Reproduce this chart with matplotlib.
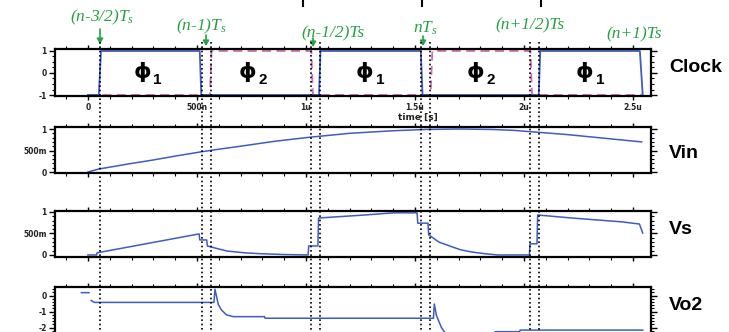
import numpy as np
import matplotlib
matplotlib.use("Agg")
import matplotlib.pyplot as plt
from matplotlib.lines import Line2D
from matplotlib.ticker import MultipleLocator, FuncFormatter
from matplotlib.transforms import blended_transform_factory

# ---- data (time in microseconds) ----
clk1_t = [0, 0.05, 0.06, 0.513, 0.52, 1.06, 1.067, 1.527, 1.535, 2.068, 2.075, 2.532, 2.545]
clk1_v = [-1, -1, 1, 1, -1, -1, 1, 1, -1, -1, 1, 1, -1]
clk2_t = [0, 0.56, 0.567, 1.025, 1.032, 1.572, 1.58, 2.03, 2.037, 2.545]
clk2_v = [-1, -1, 1, 1, -1, -1, 1, 1, -1, -1]

vin_t = [0, 0.05, 0.12, 0.2, 0.3, 0.4, 0.52, 0.6, 0.7, 0.85, 0.95, 1.02, 1.1, 1.2, 1.3,
         1.4, 1.55, 1.7, 1.85, 1.95, 2.05, 2.2, 2.3, 2.4, 2.54]
vin_v = [0, 0.07, 0.13, 0.2, 0.28, 0.37, 0.47, 0.53, 0.6, 0.71, 0.77, 0.81, 0.85, 0.9, 0.93,
         0.96, 0.99, 1.0, 0.99, 0.97, 0.93, 0.87, 0.82, 0.77, 0.7]

vs_t = [0, 0.04, 0.042, 0.51, 0.513, 0.545, 0.548, 0.6, 0.64, 0.72, 0.79, 0.9, 1.01, 1.013,
        1.055, 1.058, 1.27, 1.40, 1.51, 1.513, 1.56, 1.563, 1.61, 1.67, 1.71, 1.76, 1.82,
        1.88, 2.025, 2.028, 2.06, 2.063, 2.22, 2.45, 2.53, 2.545]
vs_v = [0, 0, 0.05, 0.49, 0.35, 0.35, 0.21, 0.14, 0.09, 0.05, 0.03, 0.01, 0.0, 0.21,
        0.21, 0.86, 0.93, 0.98, 0.98, 0.74, 0.74, 0.47, 0.3, 0.19, 0.12, 0.07, 0.03,
        0.0, 0.0, 0.26, 0.26, 0.93, 0.86, 0.77, 0.72, 0.51]

vo2_t = [-0.03, 0.005, 0.006, 0.015, 0.03, 0.578, 0.583, 0.598, 0.613, 0.636, 0.667, 0.81,
         0.813, 1.585, 1.589, 1.599, 1.622, 1.645, 1.865, 1.868, 1.98, 1.983, 2.545]
vo2_v = [0.19, 0.19, np.nan, -0.3, -0.42, -0.42, 0.4, -0.55, -0.9, -1.2, -1.31, -1.31,
         -1.41, -1.41, -0.52, -1.25, -2.0, -2.45, -2.45, -2.25, -2.25, -2.15, -2.15]

edges_t = [0.055, 0.522, 0.565, 1.023, 1.064, 1.528, 1.569, 2.028, 2.069]
phase_t = [0.25, 0.73, 1.27, 1.78, 2.28]
phase_n = ["1", "2", "1", "2", "1"]

xtick_labels = {0: "0", 0.5: "500n", 1.0: "1u", 1.5: "1.5u", 2.0: "2u", 2.5: "2.5u"}

BLUE = "#3d5cc4"
PINK = "#d06cb4"
GREEN = "#27a243"

W, H = 729, 332
plt.rcParams["mathtext.fontset"] = "custom"
plt.rcParams["mathtext.it"] = "Liberation Serif:italic"
plt.rcParams["mathtext.rm"] = "Liberation Serif"
fig = plt.figure(figsize=(W / 100, H / 100), dpi=100)


def box(top, bot):
    return [55 / W, 1 - bot / H, 596 / W, (bot - top) / H]


def style(ax, ylim, major, minor, ylabels=None, xlabels=False):
    ax.set_xlim(-0.151, 2.583)
    ax.set_ylim(*ylim)
    for s in ax.spines.values():
        s.set_linewidth(1.6)
    ax.xaxis.set_major_locator(MultipleLocator(0.5))
    ax.xaxis.set_minor_locator(MultipleLocator(0.1))
    ax.yaxis.set_major_locator(MultipleLocator(major))
    ax.yaxis.set_minor_locator(MultipleLocator(minor))
    ax.tick_params(which="both", direction="out", top=True, right=True,
                   labelsize=5.5, labelcolor="#222222", pad=2)
    ax.tick_params(which="major", length=4, width=1.0)
    ax.tick_params(which="minor", length=2.5, width=0.8)
    ax.tick_params(axis="x", which="major", length=3)
    if ylabels:
        ax.yaxis.set_major_formatter(FuncFormatter(lambda v, p: ylabels.get(round(v, 2), "")))
    if xlabels:
        ax.xaxis.set_major_formatter(FuncFormatter(lambda v, p: xtick_labels.get(round(v, 2), "")))
    else:
        ax.set_xticklabels([])
    for lab in ax.get_yticklabels() + ax.get_xticklabels():
        lab.set_fontweight("bold")


ax_clk = fig.add_axes(box(49, 96))
ax_clk.plot(clk2_t, clk2_v, color=PINK, lw=1.3, dashes=(5, 3))
ax_clk.plot(clk1_t, clk1_v, color=BLUE, lw=1.3)
style(ax_clk, (-1.045, 1.09), 1, 0.25, {1: "1", 0: "0", -1: "-1"}, xlabels=True)
for t, n in zip(phase_t, phase_n):
    ax_clk.text(t, 0.05, "ϕ", fontsize=16, fontweight="bold", ha="center", va="center",
                family="DejaVu Sans")
    ax_clk.annotate(n, xy=(t, 0.05), xytext=(11, -6), textcoords="offset points",
                    fontsize=11, fontweight="bold", ha="center", va="center",
                    family="Liberation Sans")

ax_vin = fig.add_axes(box(127, 173))
ax_vin.plot(vin_t, vin_v, color=BLUE, lw=1.1)
style(ax_vin, (-0.023, 1.047), 0.5, 0.1, {1.0: "1", 0.5: "500m", 0.0: "0"})

ax_vs = fig.add_axes(box(211, 257))
ax_vs.plot(vs_t, vs_v, color=BLUE, lw=1.1)
style(ax_vs, (-0.047, 1.023), 0.5, 0.1, {1.0: "1", 0.5: "500m", 0.0: "0"})

ax_vo = fig.add_axes(box(287.3, 340))
ax_vo.plot(vo2_t, vo2_v, color=BLUE, lw=1.1)
style(ax_vo, (-2.77, 0.525), 1, 0.2, {0.0: "0", -1.0: "-1", -2.0: "-2"})

# dotted phase-edge markers across all panels
tr = blended_transform_factory(ax_clk.transData, fig.transFigure)
for t in edges_t:
    fig.add_artist(Line2D([t, t], [1 - 42 / H, 0], transform=tr, color="black",
                          lw=1.2, ls=(0, (1, 1.6))))

# right-hand labels
for name, y in [("Clock", 67), ("Vin", 154), ("Vs", 230), ("Vo2", 306)]:
    fig.text(669 / W, 1 - y / H, name, fontsize=14, fontweight="bold",
             family="Liberation Sans", va="center", ha="left")

fig.text(418 / W, 1 - 117 / H, "time [s]", fontsize=6.5, fontweight="bold",
         ha="center", va="center", color="#222222")

# green timing annotations
serif = dict(family="Liberation Serif", style="italic", color=GREEN, fontsize=12.5,
             ha="center", va="center")
notes = [(r"(n-3/2)$T_s$", 102, 17), (r"(n-1)$T_s$", 201, 26), ("(n-1/2)Ts", 333, 33),
         (r"n$T_s$", 425, 28), ("(n+1/2)Ts", 530, 25), ("(n+1)Ts", 634, 34)]
for s, x, y in notes:
    fig.text(x / W, 1 - y / H, s, **serif)

for x, y0, y1 in [(100, 29, 44), (206, 35, 46), (313, 38, 47), (423, 36, 46)]:
    fig.add_artist(matplotlib.patches.FancyArrowPatch(
        (x / W, 1 - y0 / H), (x / W, 1 - y1 / H), transform=fig.transFigure,
        arrowstyle="-|>,head_length=3,head_width=1.8", color=GREEN, lw=1.2,
        shrinkA=0, shrinkB=0))

# remnants of a cropped title at the top edge
for x in [303, 422, 541]:
    fig.add_artist(Line2D([x / W, x / W], [1, 1 - 6 / H], transform=fig.transFigure,
                          color="black", lw=1.5))

fig.savefig("out.png", dpi=100)
